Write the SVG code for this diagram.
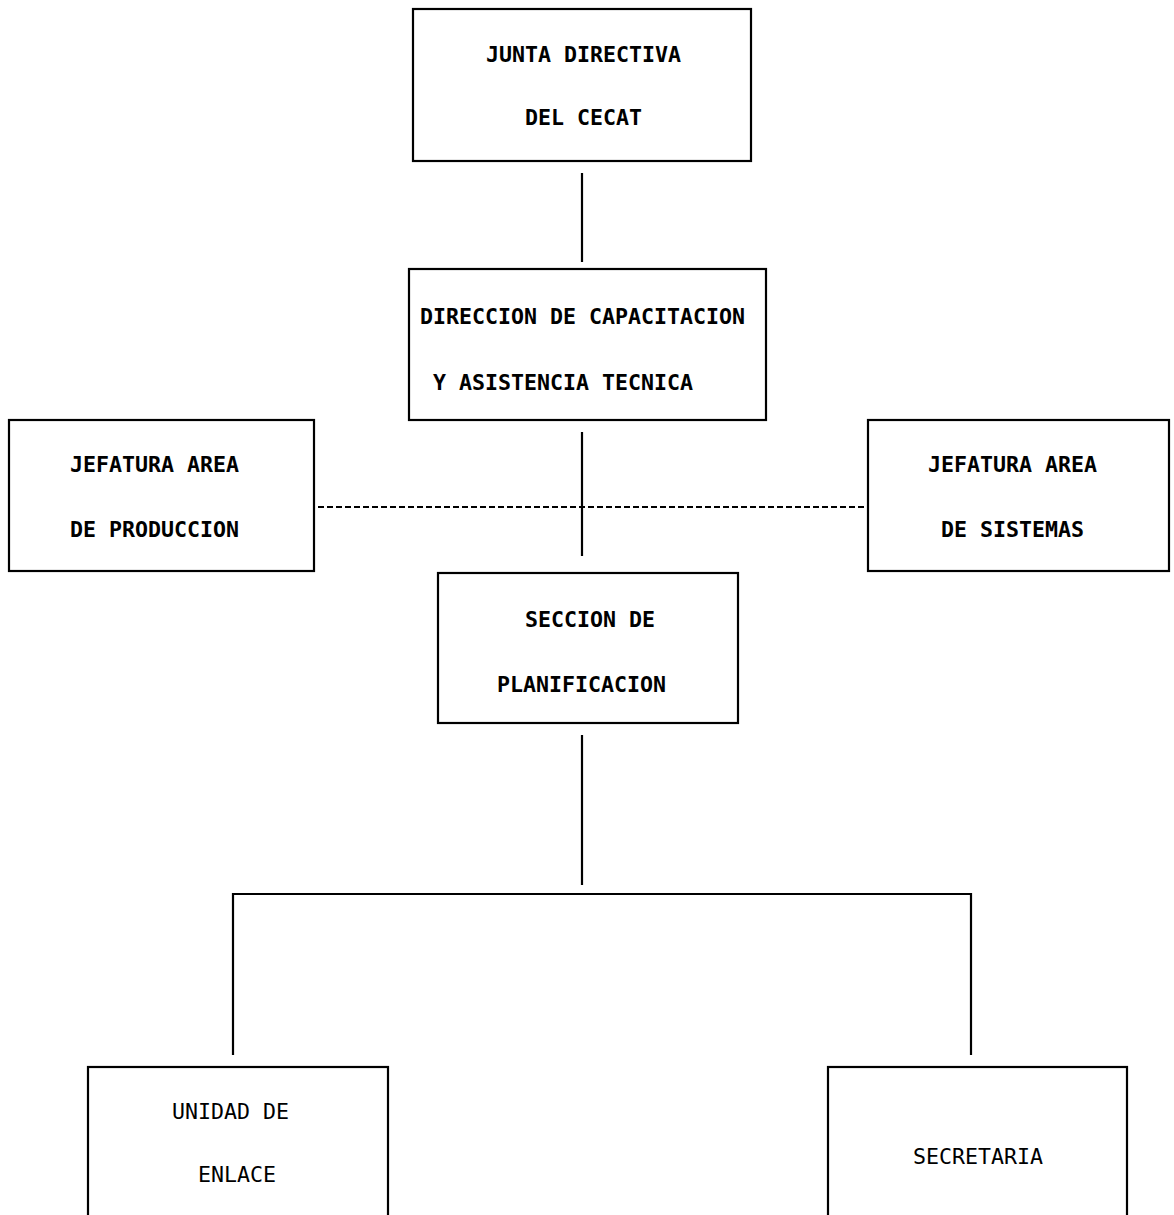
<svg xmlns="http://www.w3.org/2000/svg" width="1174" height="1215" viewBox="0 0 1174 1215">
  <style>
    .box { fill: #ffffff; stroke: #000000; stroke-width: 2.2; }
    .lbl { font-family: "DejaVu Sans Mono", "Liberation Mono", monospace; font-size: 21.6px; font-weight: bold; fill: #000000; }
    .lbl.lt { font-weight: normal; }
    .wire { stroke: #000000; stroke-width: 2.2; fill: none; }
    .dash { stroke: #000000; stroke-width: 2.2; fill: none; stroke-dasharray: 6 3; }
  </style>
  <rect width="1174" height="1215" fill="#ffffff"/>

  <!-- connectors -->
  <g id="connectors">
    <line class="wire" x1="582" y1="173" x2="582" y2="262"/>
    <line class="wire" x1="582" y1="432" x2="582" y2="556"/>
    <line class="dash" x1="318" y1="507" x2="864" y2="507"/>
    <line class="wire" x1="582" y1="735" x2="582" y2="885"/>
    <polyline class="wire" points="233,1055 233,894 971,894 971,1055"/>
  </g>

  <g id="junta-directiva">
    <rect class="box" x="413" y="9" width="338" height="152"/>
    <text class="lbl" x="486" y="62">JUNTA DIRECTIVA</text>
    <text class="lbl" x="525" y="125">DEL CECAT</text>
  </g>

  <g id="direccion-capacitacion">
    <rect class="box" x="409" y="269" width="357" height="151"/>
    <text class="lbl" x="420" y="324">DIRECCION DE CAPACITACION</text>
    <text class="lbl" x="433" y="390">Y ASISTENCIA TECNICA</text>
  </g>

  <g id="jefatura-produccion">
    <rect class="box" x="9" y="420" width="305" height="151"/>
    <text class="lbl" x="70" y="472">JEFATURA AREA</text>
    <text class="lbl" x="70" y="537">DE PRODUCCION</text>
  </g>

  <g id="jefatura-sistemas">
    <rect class="box" x="868" y="420" width="301" height="151"/>
    <text class="lbl" x="928" y="472">JEFATURA AREA</text>
    <text class="lbl" x="941" y="537">DE SISTEMAS</text>
  </g>

  <g id="seccion-planificacion">
    <rect class="box" x="438" y="573" width="300" height="150"/>
    <text class="lbl" x="525" y="627">SECCION DE</text>
    <text class="lbl" x="497" y="692">PLANIFICACION</text>
  </g>

  <g id="unidad-enlace">
    <rect class="box" x="88" y="1067" width="300" height="160"/>
    <text class="lbl lt" x="172" y="1119">UNIDAD DE</text>
    <text class="lbl lt" x="198" y="1182">ENLACE</text>
  </g>

  <g id="secretaria">
    <rect class="box" x="828" y="1067" width="299" height="160"/>
    <text class="lbl lt" x="913" y="1164">SECRETARIA</text>
  </g>
</svg>
